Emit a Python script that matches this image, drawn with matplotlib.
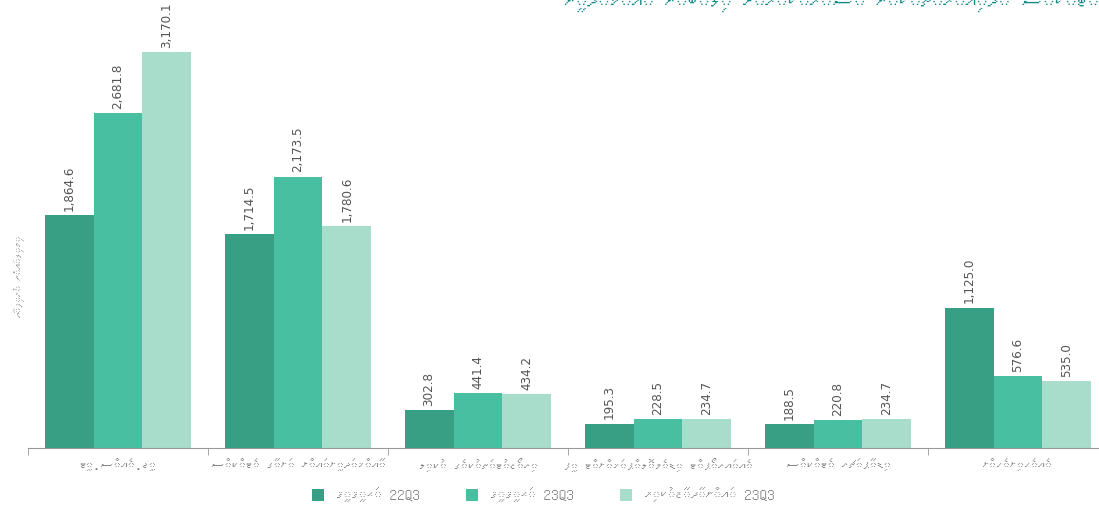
import matplotlib
matplotlib.use("Agg")
from matplotlib import pyplot as plt
from matplotlib import font_manager
from matplotlib.ft2font import FT2Font
import numpy as np
import unicodedata

categories = ["ޖީ.އެސް.ޓީ", "އާމްދަނީއަށް ނަގާ ޓެކްސް", "ރިޒޯޓުތަކުގެ ކުލި",
              "އެއަރޕޯޓް ޑިވެލޮޕްމަންޓް ފީ", "ޑިޕާޗަރ ޓެކްސް", "އެހެނިހެން"]
series_names = ["ޙަޤީޤީ 22Q3", "ޙަޤީޤީ 23Q3", "އަންދާޒާކުރި 23Q3"]
actual_22q3 = [1864.6, 1714.5, 302.8, 195.3, 188.5, 1125.0]
actual_23q3 = [2681.8, 2173.5, 441.4, 228.5, 220.8, 576.6]
budget_23q3 = [3170.1, 1780.6, 434.2, 234.7, 234.7, 535.0]
colors = ["#389e84", "#49bfa1", "#a8dccb"]
y_label = "މިލިއަން ރުފިޔާ"
title = "ޓެކްސް ދާއިރާތަކުން ސަރުކާރަށް ލިބުނު އާމްދަނީ"


def find_thaana_font():
    # look for any installed font that has the thaana block
    for path in font_manager.findSystemFonts():
        try:
            cmap = FT2Font(path).get_charmap()
        except Exception:
            continue
        if 0x0780 in cmap and 0x07A6 in cmap:
            return font_manager.FontProperties(fname=path).get_name()
    return None


def narrow_font():
    # a condensed face for the value labels
    paths = font_manager.findSystemFonts()
    for key in ["LiberationSansNarrow-Regular", "DejaVuSansCondensed."]:
        for p in paths:
            if key in p:
                return font_manager.FontProperties(fname=p)
    return font_manager.FontProperties(family="DejaVu Sans", stretch="condensed")


def is_thaana(tok):
    return any(0x0780 <= ord(c) <= 0x07BF for c in tok)


def flip_word(tok):
    # reverse letter clusters (letter + its fili) so matplotlib draws it right-to-left
    clusters = []
    for c in tok:
        if clusters and unicodedata.category(c) == "Mn":
            clusters[-1] += c
        else:
            clusters.append(c)
    return "".join(clusters[::-1])


def rtl(s):
    out, group = [], []
    for tok in s.split(" "):
        if is_thaana(tok):
            group.append(flip_word(tok))
        else:
            if group:
                out.append(" ".join(group[::-1]))
                group = []
            out.append(tok)
    if group:
        out.append(" ".join(group[::-1]))
    return " ".join(out)


thaana = find_thaana_font()
families = ["DejaVu Sans"]
if thaana:
    families = [thaana, "DejaVu Sans"]
plt.rcParams['font.family'] = families

num_fp = narrow_font()
num_fp.set_size(9.5)

fig = plt.figure(figsize=(10.99, 5.12), dpi=100)
ax = fig.add_axes([28 / 1099, 64 / 512, 1080 / 1099, 437 / 512])

x = np.arange(len(categories))
w = 0.272
for i, vals in enumerate([actual_22q3, actual_23q3, budget_23q3]):
    bars = ax.bar(x + (i - 1) * w, vals, w, color=colors[i], label=rtl(series_names[i]))
    for b, v in zip(bars, vals):
        ax.annotate(f"{v:,.1f}", (b.get_x() + b.get_width() / 2, v),
                    xytext=(0, 3), textcoords="offset points",
                    rotation=90, ha="center", va="bottom",
                    color="#555555", fontproperties=num_fp)

ax.set_xlim(-0.5, len(categories) - 0.5)
ax.set_ylim(0, 3500)
for s in ["top", "right", "left"]:
    ax.spines[s].set_visible(False)
ax.spines["bottom"].set_color("#999999")
ax.set_yticks([])
ax.set_xticks(x)
ax.set_xticklabels([rtl(c) for c in categories], fontsize=10, color="#777777", style="italic")
ax.tick_params(axis="x", which="major", length=0, pad=8)
ax.set_xticks(np.arange(len(categories)) - 0.5, minor=True)
ax.tick_params(axis="x", which="minor", length=5, color="#999999")

fig.text(20 / 1099, 0.46, rtl(y_label), rotation=90, ha="center", va="center",
         fontsize=8, color="#777777", style="italic")
# title sits partly above the top edge, as in the source
fig.text(1.0, 0.998, rtl(title), ha="right", va="center", fontsize=16,
         color="#138a8a", style="italic", weight="bold")

ax.legend(loc="center", bbox_to_anchor=(515 / 1080, -47 / 437), ncol=3,
          frameon=False, fontsize=11, labelcolor="#888888",
          handlelength=0.8, handleheight=0.8, columnspacing=3)

fig.savefig("out.png", dpi=100)
